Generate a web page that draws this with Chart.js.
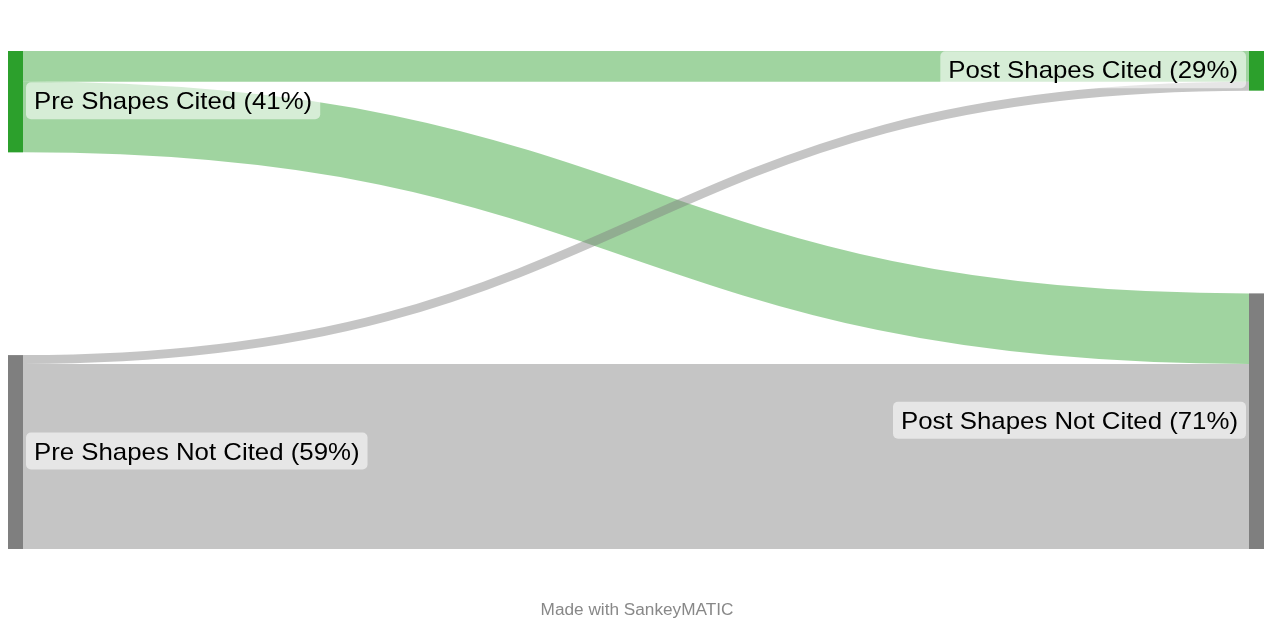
<!DOCTYPE html>
<html>
<head>
<meta charset="utf-8">
<title>Pre / Post Shapes Cited</title>
<script src="https://cdn.jsdelivr.net/npm/chart.js@4.4.1/dist/chart.umd.min.js"></script>
<style>
  html, body { margin: 0; padding: 0; background: #fff; }
  #wrap { width: 1264px; height: 623px; position: relative; }
</style>
</head>
<body>
<div id="wrap"><canvas id="sankey"></canvas></div>
<script>
(() => {
  'use strict';

  // Nodes (two stages) and the flows between them
  const nodeLabels = [
    'Pre Shapes Cited (41%)',
    'Pre Shapes Not Cited (59%)',
    'Post Shapes Cited (29%)',
    'Post Shapes Not Cited (71%)',
  ];
  const nodeColumns = [0, 0, 1, 1];
  const nodeColors = ['#2ca02c', '#7f7f7f', '#2ca02c', '#7f7f7f'];

  const flowFrom = [0, 0, 1, 1];
  const flowTo = [2, 3, 2, 3];
  const flowValues = [7, 16, 2, 42];

  const footerText = 'Made with SankeyMATIC';

  // Layout settings (in value units / px)
  const NODE_PADDING = 46;   // vertical gap between nodes, value units
  const NODE_WIDTH = 15;
  const FLOW_OPACITY = 0.45;
  const TEXT_STRETCH = 1.075; // source text renders a bit wider than Arial

  function hexToRgba(hex, a) {
    const n = parseInt(hex.slice(1), 16);
    return `rgba(${(n >> 16) & 255},${(n >> 8) & 255},${n & 255},${a})`;
  }

  // Node value = max(in, out)
  const nodeValues = nodeLabels.map((_, i) => {
    let out = 0, inn = 0;
    flowValues.forEach((v, f) => {
      if (flowFrom[f] === i) out += v;
      if (flowTo[f] === i) inn += v;
    });
    return Math.max(out, inn);
  });

  const columnTotal = Math.max(
    ...[0, 1].map(c => nodeValues.reduce((s, v, i) => s + (nodeColumns[i] === c ? v : 0), 0))
  );
  const yMax = columnTotal + NODE_PADDING;

  // Stack nodes per column: spread so the column fills the full range
  const nodeStart = new Array(nodeLabels.length).fill(0);
  [0, 1].forEach(c => {
    const ids = nodeLabels.map((_, i) => i).filter(i => nodeColumns[i] === c);
    const sum = ids.reduce((s, i) => s + nodeValues[i], 0);
    const gap = ids.length > 1 ? (yMax - sum) / (ids.length - 1) : 0;
    let y = 0;
    ids.forEach(i => { nodeStart[i] = y; y += nodeValues[i] + gap; });
  });

  // Offsets of each flow inside its source and target node
  const srcOffset = [], dstOffset = [];
  const outUsed = new Array(nodeLabels.length).fill(0);
  const inUsed = new Array(nodeLabels.length).fill(0);
  const bySrc = flowValues.map((_, f) => f).sort((a, b) => nodeStart[flowTo[a]] - nodeStart[flowTo[b]]);
  bySrc.forEach(f => { srcOffset[f] = outUsed[flowFrom[f]]; outUsed[flowFrom[f]] += flowValues[f]; });
  const byDst = flowValues.map((_, f) => f).sort((a, b) => nodeStart[flowFrom[a]] - nodeStart[flowFrom[b]]);
  byDst.forEach(f => { dstOffset[f] = inUsed[flowTo[f]]; inUsed[flowTo[f]] += flowValues[f]; });

  function roundRect(ctx, x, y, w, h, r) {
    ctx.beginPath();
    ctx.moveTo(x + r, y);
    ctx.arcTo(x + w, y, x + w, y + h, r);
    ctx.arcTo(x + w, y + h, x, y + h, r);
    ctx.arcTo(x, y + h, x, y, r);
    ctx.arcTo(x, y, x + w, y, r);
    ctx.closePath();
  }

  function stretchedText(ctx, text, tx, ty) {
    ctx.save();
    ctx.translate(tx, ty);
    ctx.scale(TEXT_STRETCH, 1);
    ctx.fillText(text, 0, 0);
    ctx.restore();
  }

  const sankeyPlugin = {
    id: 'sankeyDraw',
    afterDatasetsDraw(chart) {
      const { ctx, scales: { x, y } } = chart;
      const nodeX = i => nodeColumns[i] === 0
        ? x.getPixelForValue(0)
        : x.getPixelForValue(1) - NODE_WIDTH;

      ctx.save();

      // Flows
      flowValues.forEach((v, f) => {
        const s = flowFrom[f], t = flowTo[f];
        const x0 = nodeX(s) + NODE_WIDTH;
        const x1 = nodeX(t);
        const y0 = y.getPixelForValue(nodeStart[s] + srcOffset[f] + v / 2);
        const y1 = y.getPixelForValue(nodeStart[t] + dstOffset[f] + v / 2);
        const w = Math.abs(y.getPixelForValue(v) - y.getPixelForValue(0));
        const xm = (x0 + x1) / 2;
        ctx.beginPath();
        ctx.moveTo(x0, y0);
        ctx.bezierCurveTo(xm, y0, xm, y1, x1, y1);
        ctx.lineWidth = w;
        ctx.lineCap = 'butt';
        ctx.strokeStyle = hexToRgba(nodeColors[s], FLOW_OPACITY);
        ctx.stroke();
      });

      // Nodes
      nodeLabels.forEach((_, i) => {
        const top = y.getPixelForValue(nodeStart[i]);
        const bot = y.getPixelForValue(nodeStart[i] + nodeValues[i]);
        ctx.fillStyle = nodeColors[i];
        ctx.fillRect(nodeX(i), top, NODE_WIDTH, bot - top);
      });

      // Labels
      ctx.font = '24px "Liberation Sans", Arial, sans-serif';
      ctx.textBaseline = 'middle';
      ctx.textAlign = 'left';
      nodeLabels.forEach((label, i) => {
        const top = y.getPixelForValue(nodeStart[i]);
        const bot = y.getPixelForValue(nodeStart[i] + nodeValues[i]);
        const cy = (top + bot) / 2 - 1;
        const tw = ctx.measureText(label).width * TEXT_STRETCH;
        const padX = 8, h = 37;
        let bx;
        if (nodeColumns[i] === 0) {
          bx = nodeX(i) + NODE_WIDTH + 3;
        } else {
          bx = nodeX(i) - 3 - tw - padX * 2;
        }
        ctx.fillStyle = 'rgba(255,255,255,0.57)';
        roundRect(ctx, bx, cy - h / 2, tw + padX * 2, h, 5);
        ctx.fill();
        ctx.fillStyle = '#000';
        stretchedText(ctx, label, bx + padX, cy + 2);
      });

      // Footer
      ctx.font = '16px "Liberation Sans", Arial, sans-serif';
      ctx.fillStyle = '#888';
      const fw = ctx.measureText(footerText).width * TEXT_STRETCH;
      stretchedText(ctx, footerText, (x.left + x.right) / 2 + 1 - fw / 2, 611);

      ctx.restore();
    },
  };

  new Chart(document.getElementById('sankey').getContext('2d'), {
    type: 'scatter',
    data: { datasets: [{ data: [], pointRadius: 0 }] },
    options: {
      responsive: true,
      maintainAspectRatio: false,
      animation: false,
      events: [],
      layout: { padding: { top: 51, bottom: 74, left: 8, right: 0 } },
      plugins: { legend: { display: false }, tooltip: { enabled: false } },
      scales: {
        x: { type: 'linear', min: 0, max: 1, display: false },
        y: { type: 'linear', min: 0, max: yMax, reverse: true, display: false },
      },
    },
    plugins: [sankeyPlugin],
  });
})();
</script>
</body>
</html>
